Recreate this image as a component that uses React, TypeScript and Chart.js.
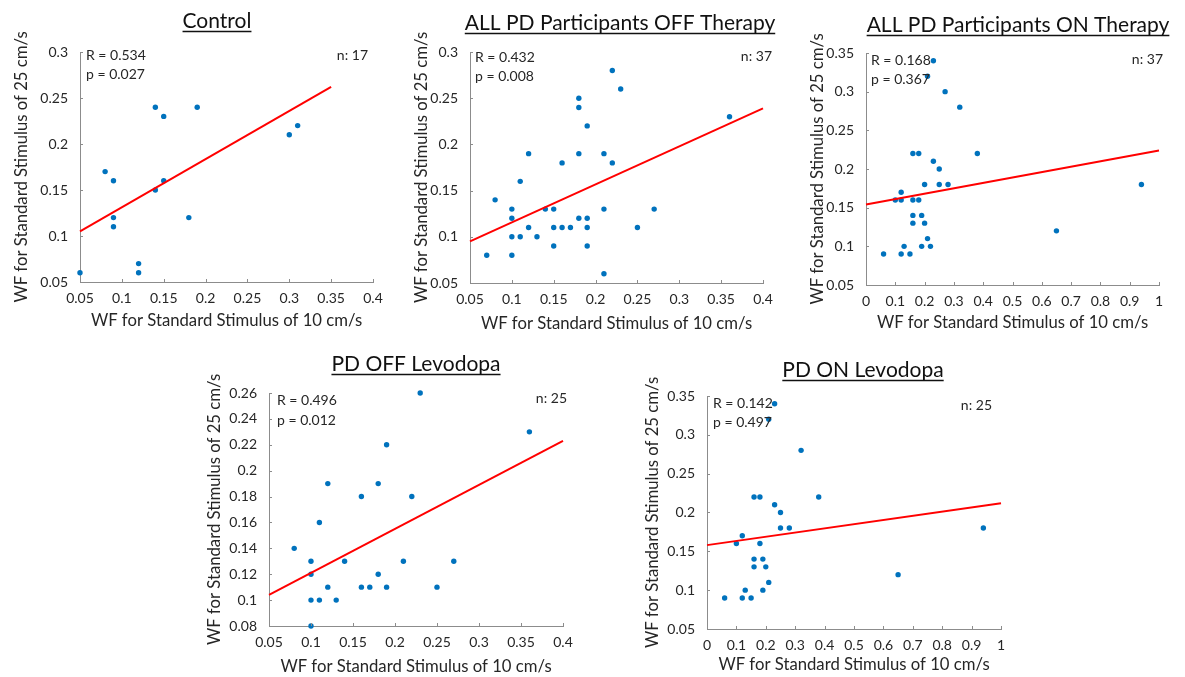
import React, { useEffect, useRef } from 'react';
import { Chart, registerables } from 'chart.js';

Chart.register(...registerables);

// ---------- text ----------
const X_LABEL = 'WF for Standard Stimulus of 10 cm/s';
const Y_LABEL = 'WF for Standard Stimulus of 25 cm/s';

// ---------- tick labels ----------
const xTicksNarrow = [0.05, 0.1, 0.15, 0.2, 0.25, 0.3, 0.35, 0.4];
const xTicksWide = [0, 0.1, 0.2, 0.3, 0.4, 0.5, 0.6, 0.7, 0.8, 0.9, 1];
const yTicksA = [0.05, 0.1, 0.15, 0.2, 0.25, 0.3];
const yTicksB = [0.05, 0.1, 0.15, 0.2, 0.25, 0.3, 0.35];
const yTicksC = [0.08, 0.1, 0.12, 0.14, 0.16, 0.18, 0.2, 0.22, 0.24, 0.26];

// ---------- Control ----------
const controlX = [0.05, 0.08, 0.09, 0.09, 0.09, 0.12, 0.12, 0.14, 0.14, 0.15, 0.15, 0.18, 0.19, 0.30, 0.31];
const controlY = [0.06, 0.17, 0.16, 0.12, 0.11, 0.07, 0.06, 0.24, 0.15, 0.23, 0.16, 0.12, 0.24, 0.21, 0.22];
const controlFitX = [0.05, 0.35];
const controlFitY = [0.105, 0.262];

// ---------- ALL PD OFF therapy ----------
const allOffX = [0.07, 0.08, 0.10, 0.10, 0.10, 0.10, 0.11, 0.11, 0.12, 0.12, 0.13, 0.14, 0.15, 0.15, 0.15, 0.16, 0.16, 0.17, 0.18, 0.18, 0.18, 0.18, 0.19, 0.19, 0.19, 0.19, 0.21, 0.21, 0.21, 0.22, 0.22, 0.23, 0.25, 0.27, 0.36];
const allOffY = [0.08, 0.14, 0.13, 0.12, 0.10, 0.08, 0.16, 0.10, 0.19, 0.11, 0.10, 0.13, 0.13, 0.11, 0.09, 0.18, 0.11, 0.11, 0.25, 0.24, 0.19, 0.12, 0.22, 0.12, 0.11, 0.09, 0.19, 0.13, 0.06, 0.28, 0.18, 0.26, 0.11, 0.13, 0.23];
const allOffFitX = [0.05, 0.4];
const allOffFitY = [0.095, 0.239];

// ---------- ALL PD ON therapy ----------
const allOnX = [0.06, 0.10, 0.12, 0.12, 0.12, 0.13, 0.15, 0.16, 0.16, 0.16, 0.16, 0.18, 0.18, 0.19, 0.19, 0.20, 0.20, 0.21, 0.22, 0.21, 0.23, 0.23, 0.25, 0.25, 0.27, 0.28, 0.32, 0.38, 0.65, 0.94];
const allOnY = [0.09, 0.16, 0.16, 0.17, 0.09, 0.10, 0.09, 0.22, 0.16, 0.14, 0.13, 0.22, 0.16, 0.14, 0.10, 0.18, 0.13, 0.11, 0.10, 0.32, 0.34, 0.21, 0.20, 0.18, 0.30, 0.18, 0.28, 0.22, 0.12, 0.18];
const allOnFitX = [0, 1];
const allOnFitY = [0.154, 0.224];

// ---------- PD OFF Levodopa ----------
const levoOffX = [0.08, 0.10, 0.10, 0.10, 0.10, 0.11, 0.11, 0.12, 0.12, 0.13, 0.14, 0.16, 0.16, 0.17, 0.18, 0.18, 0.19, 0.19, 0.21, 0.22, 0.23, 0.25, 0.27, 0.36];
const levoOffY = [0.14, 0.13, 0.12, 0.10, 0.08, 0.16, 0.10, 0.19, 0.11, 0.10, 0.13, 0.18, 0.11, 0.11, 0.19, 0.12, 0.22, 0.11, 0.13, 0.18, 0.26, 0.11, 0.13, 0.23];
const levoOffFitX = [0.05, 0.4];
const levoOffFitY = [0.104, 0.223];

// ---------- PD ON Levodopa ----------
const levoOnX = [0.06, 0.10, 0.12, 0.12, 0.13, 0.15, 0.16, 0.16, 0.16, 0.18, 0.18, 0.19, 0.19, 0.20, 0.21, 0.21, 0.23, 0.23, 0.25, 0.25, 0.28, 0.32, 0.38, 0.65, 0.94];
const levoOnY = [0.09, 0.16, 0.17, 0.09, 0.10, 0.09, 0.22, 0.14, 0.13, 0.22, 0.16, 0.14, 0.10, 0.13, 0.11, 0.32, 0.34, 0.21, 0.20, 0.18, 0.18, 0.28, 0.22, 0.12, 0.18];
const levoOnFitX = [0, 1];
const levoOnFitY = [0.158, 0.212];

// ---------- styles ----------
const FONT = 'Lato, "Open Sans", sans-serif';
const AXIS_COLOR = '#8c8c8c';
const TEXT_COLOR = '#262626';
const TITLE_COLOR = '#111111';
const DOT_COLOR = '#0072BD';
const FIT_COLOR = '#ff0000';
const TICK_SIZE = 14;
const LABEL_SIZE = 16.7;
const TITLE_SIZE = 21;
const ANNO_SIZE = 14;

type Box = { x: number; y: number; w: number; h: number };
type Plot = { l: number; t: number; r: number; b: number };
type PanelDef = {
  title: string; r: string; p: string; n: string;
  xs: number[]; ys: number[]; fx: number[]; fy: number[];
  xmin: number; xmax: number; ymin: number; ymax: number;
  xticks: number[]; yticks: number[];
  canvas: Box; plot: Plot;
  titlePos: [number, number]; // center x, baseline y (page coords)
  rPos: [number, number]; pPos: [number, number]; nPos: [number, number];
  yTitleX: number; xTitleY: number;
};

const panels: PanelDef[] = [
  {
    title: 'Control', r: 'R = 0.534', p: 'p = 0.027', n: 'n: 17',
    xs: controlX, ys: controlY, fx: controlFitX, fy: controlFitY,
    xmin: 0.05, xmax: 0.4, ymin: 0.05, ymax: 0.3, xticks: xTicksNarrow, yticks: yTicksA,
    canvas: { x: 0, y: 0, w: 392, h: 345 }, plot: { l: 80, t: 52, r: 373, b: 282 },
    titlePos: [217, 28], rPos: [86, 55], pPos: [86, 74], nPos: [368, 55],
    yTitleX: 22, xTitleY: 321,
  },
  {
    title: 'ALL PD Participants OFF Therapy', r: 'R = 0.432', p: 'p = 0.008', n: 'n: 37',
    xs: allOffX, ys: allOffY, fx: allOffFitX, fy: allOffFitY,
    xmin: 0.05, xmax: 0.4, ymin: 0.05, ymax: 0.3, xticks: xTicksNarrow, yticks: yTicksA,
    canvas: { x: 392, y: 0, w: 393, h: 345 }, plot: { l: 470, t: 52, r: 763, b: 283 },
    titlePos: [620, 30], rPos: [475, 57], pPos: [475, 76], nPos: [772, 56],
    yTitleX: 422, xTitleY: 324,
  },
  {
    title: 'ALL PD Participants ON Therapy', r: 'R = 0.168', p: 'p = 0.367', n: 'n: 37',
    xs: allOnX, ys: allOnY, fx: allOnFitX, fy: allOnFitY,
    xmin: 0, xmax: 1, ymin: 0.05, ymax: 0.35, xticks: xTicksWide, yticks: yTicksB,
    canvas: { x: 785, y: 0, w: 400, h: 345 }, plot: { l: 866, t: 53, r: 1159, b: 285 },
    titlePos: [1018, 32], rPos: [871, 60], pPos: [871, 79], nPos: [1163, 59],
    yTitleX: 818, xTitleY: 323,
  },
  {
    title: 'PD OFF Levodopa', r: 'R = 0.496', p: 'p = 0.012', n: 'n: 25',
    xs: levoOffX, ys: levoOffY, fx: levoOffFitX, fy: levoOffFitY,
    xmin: 0.05, xmax: 0.4, ymin: 0.08, ymax: 0.26, xticks: xTicksNarrow, yticks: yTicksC,
    canvas: { x: 180, y: 340, w: 420, h: 337 }, plot: { l: 269, t: 393, r: 563, b: 626 },
    titlePos: [416, 371], rPos: [277, 400], pPos: [277, 420], nPos: [567, 398],
    yTitleX: 215, xTitleY: 667,
  },
  {
    title: 'PD ON Levodopa', r: 'R = 0.142', p: 'p = 0.497', n: 'n: 25',
    xs: levoOnX, ys: levoOnY, fx: levoOnFitX, fy: levoOnFitY,
    xmin: 0, xmax: 1, ymin: 0.05, ymax: 0.35, xticks: xTicksWide, yticks: yTicksB,
    canvas: { x: 620, y: 340, w: 420, h: 337 }, plot: { l: 707, t: 396, r: 1001, b: 629 },
    titlePos: [863, 377], rPos: [713, 403], pPos: [713, 422], nPos: [992, 405],
    yTitleX: 653, xTitleY: 665,
  },
];

const fmt = (v: number) => String(parseFloat(Number(v).toFixed(3)));

const inwardTicks = {
  id: 'inwardTicks',
  afterDraw(chart: any) {
    const { ctx, chartArea } = chart;
    const x = chart.scales.x;
    const y = chart.scales.y;
    ctx.save();
    ctx.strokeStyle = AXIS_COLOR;
    ctx.lineWidth = 1;
    ctx.beginPath();
    x.ticks.forEach((t: any) => {
      const px = Math.round(x.getPixelForValue(t.value)) + 0.5;
      ctx.moveTo(px, chartArea.bottom);
      ctx.lineTo(px, chartArea.bottom - 3);
    });
    y.ticks.forEach((t: any) => {
      const py = Math.round(y.getPixelForValue(t.value)) + 0.5;
      ctx.moveTo(chartArea.left, py);
      ctx.lineTo(chartArea.left + 3, py);
    });
    ctx.stroke();
    ctx.restore();
  },
};

function Panel({ def }: { def: PanelDef }) {
  const ref = useRef<HTMLCanvasElement | null>(null);
  useEffect(() => {
    const canvas = ref.current;
    if (!canvas) return;
    const cv = def.canvas;
    const pl = def.plot;
    const lh = LABEL_SIZE * 1.2;
    const yAxisW = pl.l - cv.x;
    const xAxisH = cv.y + cv.h - pl.b;
    const yTitlePad = def.yTitleX - cv.x - lh / 2;
    const xTitlePad = cv.y + cv.h - def.xTitleY - lh / 2;

    const annotate = {
      id: 'annotate',
      afterDraw(chart: any) {
        const ctx = chart.ctx;
        ctx.save();
        // title with underline
        ctx.font = `${TITLE_SIZE}px ${FONT}`;
        ctx.fillStyle = TITLE_COLOR;
        ctx.textAlign = 'center';
        ctx.textBaseline = 'alphabetic';
        const tx = def.titlePos[0] - cv.x;
        const ty = def.titlePos[1] - cv.y;
        ctx.fillText(def.title, tx, ty);
        const tw = ctx.measureText(def.title).width;
        ctx.strokeStyle = TITLE_COLOR;
        ctx.lineWidth = 1.4;
        ctx.beginPath();
        ctx.moveTo(tx - tw / 2, ty + 3.5);
        ctx.lineTo(tx + tw / 2, ty + 3.5);
        ctx.stroke();
        // stats
        ctx.font = `${ANNO_SIZE}px ${FONT}`;
        ctx.fillStyle = TEXT_COLOR;
        ctx.textBaseline = 'middle';
        ctx.textAlign = 'left';
        ctx.fillText(def.r, def.rPos[0] - cv.x, def.rPos[1] - cv.y);
        ctx.fillText(def.p, def.pPos[0] - cv.x, def.pPos[1] - cv.y);
        ctx.textAlign = 'right';
        ctx.fillText(def.n, def.nPos[0] - cv.x, def.nPos[1] - cv.y);
        ctx.restore();
      },
    };

    const chart = new Chart(canvas, {
      type: 'scatter',
      data: {
        datasets: [
          {
            type: 'line',
            data: def.fx.map((x, i) => ({ x, y: def.fy[i] })),
            borderColor: FIT_COLOR,
            borderWidth: 2,
            pointRadius: 0,
            showLine: true,
            fill: false,
            clip: false,
          } as any,
          {
            data: def.xs.map((x, i) => ({ x, y: def.ys[i] })),
            backgroundColor: DOT_COLOR,
            borderColor: DOT_COLOR,
            borderWidth: 0,
            pointRadius: 2.7,
            clip: false,
          } as any,
        ],
      },
      options: {
        responsive: false,
        animation: false,
        devicePixelRatio: 1,
        events: [],
        layout: {
          padding: { left: 0, top: pl.t - cv.y, right: cv.x + cv.w - pl.r, bottom: 0 },
        },
        plugins: {
          legend: { display: false },
          tooltip: { enabled: false },
          title: { display: false },
        },
        scales: {
          x: {
            type: 'linear',
            min: def.xmin,
            max: def.xmax,
            afterBuildTicks: (s: any) => { s.ticks = def.xticks.map((v) => ({ value: v })); },
            afterFit: (s: any) => { s.height = xAxisH; },
            grid: { display: false },
            border: { display: true, color: AXIS_COLOR, width: 1 },
            ticks: {
              color: TEXT_COLOR,
              font: { family: FONT, size: TICK_SIZE },
              padding: 0,
              autoSkip: false,
              maxRotation: 0,
              callback: (v: any) => fmt(v),
            },
            title: {
              display: true,
              text: X_LABEL,
              color: TEXT_COLOR,
              font: { family: FONT, size: LABEL_SIZE, lineHeight: 1.2 },
              padding: { top: 0, bottom: xTitlePad },
            },
          },
          y: {
            type: 'linear',
            min: def.ymin,
            max: def.ymax,
            afterBuildTicks: (s: any) => { s.ticks = def.yticks.map((v) => ({ value: v })); },
            afterFit: (s: any) => { s.width = yAxisW; },
            grid: { display: false },
            border: { display: true, color: AXIS_COLOR, width: 1 },
            ticks: {
              color: TEXT_COLOR,
              font: { family: FONT, size: TICK_SIZE },
              padding: 4,
              autoSkip: false,
              callback: (v: any) => fmt(v),
            },
            title: {
              display: true,
              text: Y_LABEL,
              color: TEXT_COLOR,
              font: { family: FONT, size: LABEL_SIZE, lineHeight: 1.2 },
              padding: { top: yTitlePad, bottom: 0 },
            },
          },
        },
      } as any,
      plugins: [inwardTicks, annotate],
    });
    return () => chart.destroy();
  }, [def]);

  return (
    <canvas
      ref={ref}
      width={def.canvas.w}
      height={def.canvas.h}
      style={{ position: 'absolute', left: def.canvas.x, top: def.canvas.y, width: def.canvas.w, height: def.canvas.h }}
    />
  );
}

export default function App() {
  useEffect(() => {
    document.body.style.margin = '0';
    document.body.style.background = '#ffffff';
  }, []);
  return (
    <div style={{ position: 'relative', width: 1185, height: 677, background: '#ffffff', overflow: 'hidden' }}>
      {panels.map((d) => (
        <Panel key={d.title} def={d} />
      ))}
    </div>
  );
}
